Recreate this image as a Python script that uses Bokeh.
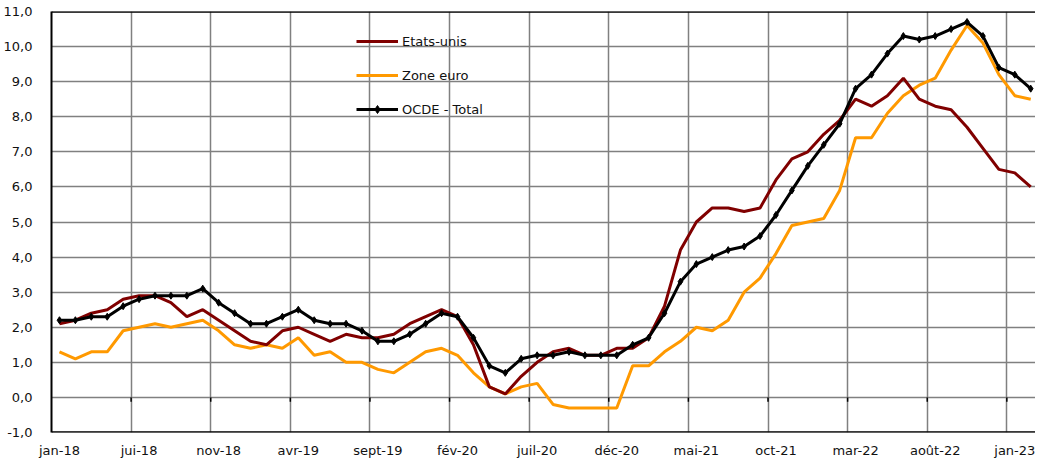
from bokeh.plotting import figure
from bokeh.models import FixedTicker, Range1d, Legend, LegendItem
from bokeh.embed import file_html
from bokeh.resources import INLINE

# Monthly data, jan-18 .. feb-23 (62 months)
tick_labels = ["jan-18", "jui-18", "nov-18", "avr-19", "sept-19", "fév-20", "juil-20",
               "déc-20", "mai-21", "oct-21", "mar-22", "août-22", "jan-23"]
label_step = 5

etats_unis = [2.1, 2.2, 2.4, 2.5, 2.8, 2.9, 2.9, 2.7, 2.3, 2.5, 2.2, 1.9,
              1.6, 1.5, 1.9, 2.0, 1.8, 1.6, 1.8, 1.7, 1.7, 1.8, 2.1, 2.3,
              2.5, 2.3, 1.5, 0.3, 0.1, 0.6, 1.0, 1.3, 1.4, 1.2, 1.2, 1.4,
              1.4, 1.7, 2.6, 4.2, 5.0, 5.4, 5.4, 5.3, 5.4, 6.2, 6.8, 7.0,
              7.5, 7.9, 8.5, 8.3, 8.6, 9.1, 8.5, 8.3, 8.2, 7.7, 7.1, 6.5,
              6.4, 6.0]
zone_euro = [1.3, 1.1, 1.3, 1.3, 1.9, 2.0, 2.1, 2.0, 2.1, 2.2, 1.9, 1.5,
             1.4, 1.5, 1.4, 1.7, 1.2, 1.3, 1.0, 1.0, 0.8, 0.7, 1.0, 1.3,
             1.4, 1.2, 0.7, 0.3, 0.1, 0.3, 0.4, -0.2, -0.3, -0.3, -0.3, -0.3,
             0.9, 0.9, 1.3, 1.6, 2.0, 1.9, 2.2, 3.0, 3.4, 4.1, 4.9, 5.0,
             5.1, 5.9, 7.4, 7.4, 8.1, 8.6, 8.9, 9.1, 9.9, 10.6, 10.1, 9.2,
             8.6, 8.5]
ocde_total = [2.2, 2.2, 2.3, 2.3, 2.6, 2.8, 2.9, 2.9, 2.9, 3.1, 2.7, 2.4,
              2.1, 2.1, 2.3, 2.5, 2.2, 2.1, 2.1, 1.9, 1.6, 1.6, 1.8, 2.1,
              2.4, 2.3, 1.7, 0.9, 0.7, 1.1, 1.2, 1.2, 1.3, 1.2, 1.2, 1.2,
              1.5, 1.7, 2.4, 3.3, 3.8, 4.0, 4.2, 4.3, 4.6, 5.2, 5.9, 6.6,
              7.2, 7.8, 8.8, 9.2, 9.8, 10.3, 10.2, 10.3, 10.5, 10.7, 10.3, 9.4,
              9.2, 8.8]

y_min, y_max = -1.0, 11.0
x = list(range(len(ocde_total)))

FONT = "DejaVu Sans"
GRID = "#808080"

p = figure(width=1035, height=460, output_backend="svg", toolbar_location=None,
           x_range=Range1d(-0.5, 61.3), y_range=Range1d(y_min, y_max),
           min_border_left=45, min_border_top=11, min_border_right=0, min_border_bottom=0)
p.outline_line_color = None
p.background_fill_color = "white"
p.border_fill_color = "white"
p.grid.visible = False

# y axis
yt = [float(v) for v in range(int(y_min), int(y_max) + 1)]
p.yaxis.ticker = FixedTicker(ticks=yt)
p.yaxis.major_label_overrides = {v: f"{v:.1f}".replace(".", ",") for v in yt}
p.yaxis.major_tick_line_color = None
p.yaxis.minor_tick_line_color = None
p.yaxis.axis_line_color = "black"
p.yaxis.axis_line_width = 2
p.yaxis.major_label_standoff = 13
p.yaxis.major_label_text_font = FONT
p.yaxis.major_label_text_font_size = "13px"
p.yaxis.major_label_text_color = "#111111"

# x axis (labels at category centers)
xt = [i * label_step for i in range(len(tick_labels))]
p.xaxis.ticker = FixedTicker(ticks=xt)
p.xaxis.major_label_overrides = {t: lab for t, lab in zip(xt, tick_labels)}
p.xaxis.major_tick_line_color = None
p.xaxis.minor_tick_line_color = None
p.xaxis.axis_line_color = None
p.xaxis.major_label_standoff = 4
p.xaxis.major_label_text_font = FONT
p.xaxis.major_label_text_font_size = "13px"
p.xaxis.major_label_text_color = "#111111"

# grid lines as span glyphs (category boundaries every 5 months; every unit on y)
boundaries = [t + label_step - 0.5 for t in xt]
p.vspan(x=boundaries, line_color=GRID, line_width=1.5)
p.hspan(y=yt, line_color=GRID, line_width=1.5)

# tick marks of the category axis crossing at zero
p.segment(x0=boundaries, y0=[0.0] * len(boundaries),
          x1=boundaries, y1=[-0.12] * len(boundaries),
          line_color="black", line_width=1.5)

# frame lines at top and bottom
p.hspan(y=[y_min, y_max], line_color="black", line_width=2.5)

r_euro = p.line(x, zone_euro, line_color="#FF9900", line_width=3)
r_us = p.line(x, etats_unis, line_color="#800000", line_width=3)
r_ocde = p.line(x, ocde_total, line_color="black", line_width=3)
r_ocde_m = p.scatter(x, ocde_total, marker="diamond", size=7, color="black")

legend = Legend(items=[
    LegendItem(label="Etats-unis", renderers=[r_us]),
    LegendItem(label="Zone euro", renderers=[r_euro]),
    LegendItem(label="OCDE - Total", renderers=[r_ocde, r_ocde_m]),
], location=(305, 313), orientation="vertical",
    background_fill_alpha=0, border_line_color=None,
    padding=0, margin=0, spacing=14,
    glyph_width=42, glyph_height=20, label_height=20, label_standoff=4,
    label_text_font=FONT, label_text_font_size="13px", label_text_color="#111111")
p.add_layout(legend, "center")

open("out.html", "w").write(file_html(p, INLINE))
